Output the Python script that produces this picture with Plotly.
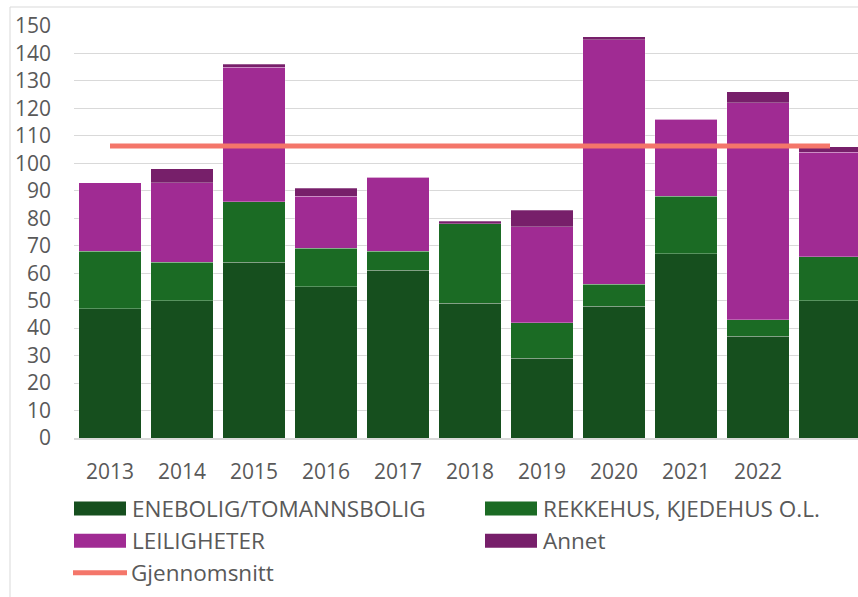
import plotly.graph_objects as go

# ---- data ----
years = ["2013", "2014", "2015", "2016", "2017", "2018", "2019", "2020", "2021", "2022", " "]
enebolig = [47, 50, 64, 55, 61, 49, 29, 48, 67, 37, 50]
rekkehus = [21, 14, 22, 14, 7, 29, 13, 8, 21, 6, 16]
leiligheter = [25, 29, 49, 19, 27, 0, 35, 89, 28, 79, 38]
annet = [0, 5, 1, 3, 0, 1, 6, 1, 0, 4, 2]
gjennomsnitt = [106.3, 106.3, 106.3, 106.3, 106.3, 106.3, 106.3, 106.3, 106.3, 106.3, 106.3]
y_ticks = [0, 10, 20, 30, 40, 50, 60, 70, 80, 90, 100, 110, 120, 130, 140, 150]

names = ["ENEBOLIG/TOMANNSBOLIG", "REKKEHUS, KJEDEHUS O.L.", "LEILIGHETER", "Annet"]
colors = ["#164f1e", "#1b6b24", "#a02b93", "#771f6a"]
line_color = "#f4766a"
text_color = "#595959"
FONT = "Open Sans"
FS = 21
FS_LEG = 22.5

W, H = 866, 597
# plot area in screen px
L, R, T, B = 74, 866, 26, 438


def px(x):
    return (x - L) / (R - L)


def py(y):
    return (B - y) / (B - T)


fig = go.Figure()
for vals, name, col in zip([enebolig, rekkehus, leiligheter, annet], names, colors):
    fig.add_trace(go.Bar(
        x=years, y=vals, name=name, marker_color=col,
        marker_line=dict(width=0.6, color="rgba(255,255,255,0.45)"),
        showlegend=False,
    ))

fig.add_trace(go.Scatter(
    x=years, y=gjennomsnitt, mode="lines", name="Gjennomsnitt",
    line=dict(color=line_color, width=5), showlegend=False,
))

shapes = []
annotations = []
# chart frame (left and top border)
shapes.append(dict(type="line", xref="paper", yref="paper", x0=px(10), x1=px(10), y0=py(7), y1=py(620),
                   line=dict(color="#d9d9d9", width=1)))
shapes.append(dict(type="line", xref="paper", yref="paper", x0=px(10), x1=px(880), y0=py(7), y1=py(7),
                   line=dict(color="#d9d9d9", width=1)))

# custom legend
legend_items = [
    (names[0], colors[0], 74, 508.5, "rect"),
    (names[1], colors[1], 485, 508.5, "rect"),
    (names[2], colors[2], 74, 540.8, "rect"),
    (names[3], colors[3], 485, 540.8, "rect"),
    ("Gjennomsnitt", line_color, 73, 572.7, "line"),
]
for label, col, x0, yc, kind in legend_items:
    if kind == "rect":
        shapes.append(dict(type="rect", xref="paper", yref="paper",
                           x0=px(x0), x1=px(x0 + 52), y0=py(yc - 7), y1=py(yc + 7),
                           fillcolor=col, line=dict(width=0)))
    else:
        shapes.append(dict(type="line", xref="paper", yref="paper",
                           x0=px(x0), x1=px(x0 + 54), y0=py(yc), y1=py(yc),
                           line=dict(color=col, width=5)))
    annotations.append(dict(xref="paper", yref="paper", x=px(x0 + 56), y=py(yc),
                            xanchor="left", yanchor="middle", text=label, showarrow=False,
                            font=dict(family=FONT, size=FS_LEG, color=text_color)))

fig.update_layout(
    width=W, height=H,
    margin=dict(l=L, r=W - R, t=T, b=H - B, pad=0),
    barmode="stack", bargap=0.126,
    plot_bgcolor="white", paper_bgcolor="white",
    font=dict(family=FONT, size=FS, color=text_color),
    shapes=shapes, annotations=annotations,
    showlegend=False,
)
fig.update_xaxes(
    type="category", range=[-0.5, 10.5],
    showgrid=False, showline=True, linecolor="#d9d9d9", linewidth=1.5,
    ticks="", ticklabelstandoff=14,
    tickfont=dict(family=FONT, size=FS, color=text_color),
)
fig.update_yaxes(
    range=[0, 150], tickvals=y_ticks,
    showgrid=True, gridcolor="#d9d9d9", gridwidth=1.3,
    zeroline=False, showline=False, ticks="",
    ticklabelstandoff=22,
    tickfont=dict(family=FONT, size=FS, color=text_color),
)

fig.write_html(
    "out.html",
    config={"displayModeBar": False},
    post_script="document.body.style.margin='0';document.body.style.overflow='hidden';",
)
